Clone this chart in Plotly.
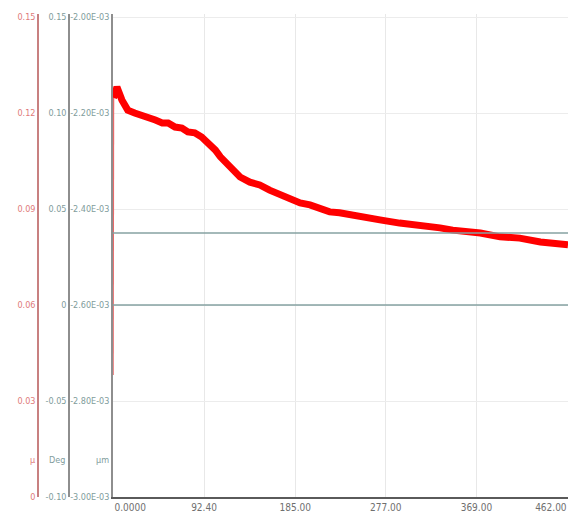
import plotly.graph_objects as go

# ---- data ----
x_vals = [0, 0.5, 4, 9, 15, 22, 29, 36, 43, 50, 56, 63, 70, 76, 83, 90, 96, 104, 109,
          119, 129, 139, 149, 159, 170, 180, 190, 200, 210, 220, 230, 251, 271, 291,
          312, 332, 345, 373, 393, 413, 434, 454, 462]
red_vals = [0.0381, 0.1247, 0.1281, 0.1241, 0.1209, 0.1200, 0.1194, 0.1188, 0.1178,
            0.1169, 0.1169, 0.1156, 0.1153, 0.1141, 0.1138, 0.1125, 0.1109, 0.1084,
            0.1063, 0.1031, 0.1000, 0.0984, 0.0975, 0.0959, 0.0944, 0.0928, 0.0919,
            0.0913, 0.0903, 0.0891, 0.0888, 0.0875, 0.0866, 0.0856, 0.0850, 0.0841,
            0.0834, 0.0825, 0.0813, 0.0809, 0.0797, 0.0794, 0.0788]
deg_x = [0, 462]
deg_vals = [0.0, 0.0]
um_x = [0, 462]
um_vals = [-2.45e-3, -2.45e-3]

x_ticks = [0, 92.4, 185, 277, 369, 462]
x_tick_labels = ["0.0000", "92.40", "185.00", "277.00", "369.00", "462.00"]
red_ticks = [0, 0.03, 0.06, 0.09, 0.12, 0.15]
red_tick_labels = ["0", "0.03", "0.06", "0.09", "0.12", "0.15"]
deg_ticks = [-0.10, -0.05, 0, 0.05, 0.10, 0.15]
deg_tick_labels = ["-0.10", "-0.05", "0", "0.05", "0.10", "0.15"]
um_ticks = [-3.0e-3, -2.8e-3, -2.6e-3, -2.4e-3, -2.2e-3, -2.0e-3]
um_tick_labels = ["-3.00E-03", "-2.80E-03", "-2.60E-03", "-2.40E-03", "-2.20E-03", "-2.00E-03"]

W, H = 568, 518
L_PLOT = 113
TOP, BOT = 14, 21
plot_h = H - TOP - BOT
scale = plot_h / 480.0

FONT = "Liberation Sans Narrow, DejaVu Sans Condensed, Arial Narrow, sans-serif"
RED_TXT = "#e07a7a"
GREY_TXT = "#7f9c9c"

# end labels are kept inside the plot edges (first left-aligned, last right-aligned)
PAD = "\u00a0" * 12
x_text = list(x_tick_labels)
x_text[0] = PAD + x_text[0]
x_text[-1] = x_text[-1] + PAD

fig = go.Figure()
fig.add_trace(go.Scatter(x=deg_x, y=deg_vals, mode="lines", yaxis="y2",
                         line=dict(color="#86a2a2", width=1.5), showlegend=False))
fig.add_trace(go.Scatter(x=um_x, y=um_vals, mode="lines", yaxis="y3",
                         line=dict(color="#86a2a2", width=1.5), showlegend=False))
# initial jump drawn thin, rest of the trace thick
fig.add_trace(go.Scatter(x=x_vals[:2], y=red_vals[:2], mode="lines", yaxis="y",
                         line=dict(color="#e86a6a", width=1.5), showlegend=False))
fig.add_trace(go.Scatter(x=x_vals[1:], y=red_vals[1:], mode="lines", yaxis="y",
                         line=dict(color="#ff0000", width=7), showlegend=False))

fig.update_layout(
    width=W, height=H,
    margin=dict(l=0, r=0, t=TOP, b=BOT),
    paper_bgcolor="white", plot_bgcolor="white",
    font=dict(family=FONT, size=9, color=GREY_TXT),
    xaxis=dict(domain=[L_PLOT / W, 1], range=[0, 462], tickvals=x_ticks,
               ticktext=x_text, showgrid=True, gridcolor="#e8e8e8",
               zeroline=False, showline=True, linecolor="#5a5a5a", linewidth=2,
               ticks="", automargin=False, ticklabeloverflow="allow",
               tickfont=dict(size=10, color="#6f6f6f")),
    yaxis=dict(anchor="free", position=38 / W, side="left", automargin=False,
               range=[0, 0.15 * scale], tickvals=red_ticks, ticktext=red_tick_labels,
               showgrid=True, gridcolor="#ececec", zeroline=False,
               showline=True, linecolor="#c88080", linewidth=1.5, ticks="",
               tickfont=dict(size=9, color=RED_TXT), ticklabelstandoff=0),
    yaxis2=dict(anchor="free", position=69 / W, side="left", overlaying="y",
                automargin=False,
                range=[-0.10, -0.10 + 0.25 * scale], tickvals=deg_ticks,
                ticktext=deg_tick_labels, showgrid=False, zeroline=False,
                showline=True, linecolor="#8e8e8e", linewidth=1.5, ticks="",
                tickfont=dict(size=9, color=GREY_TXT), ticklabelstandoff=0),
    yaxis3=dict(anchor="x", side="left", overlaying="y", automargin=False,
                range=[-3.0e-3, -3.0e-3 + 1.0e-3 * scale], tickvals=um_ticks,
                ticktext=um_tick_labels, showgrid=False, zeroline=False,
                showline=True, linecolor="#8e8e8e", linewidth=1.5, ticks="",
                tickfont=dict(size=9, color=GREY_TXT), ticklabelstandoff=0),
)

unit_y = (H - BOT - 467) / plot_h
fig.add_annotation(text="µ", x=37 / W, y=unit_y, xref="paper", yref="paper",
                   xanchor="right", showarrow=False, font=dict(size=9, color=RED_TXT))
fig.add_annotation(text="Deg", x=67 / W, y=unit_y, xref="paper", yref="paper",
                   xanchor="right", showarrow=False, font=dict(size=9, color=GREY_TXT))
fig.add_annotation(text="µm", x=111 / W, y=unit_y, xref="paper", yref="paper",
                   xanchor="right", showarrow=False, font=dict(size=9, color=GREY_TXT))

fig.write_html(
    "out.html",
    config={"displayModeBar": False},
    post_script="document.body.style.margin='0';document.body.style.overflow='hidden';",
)
